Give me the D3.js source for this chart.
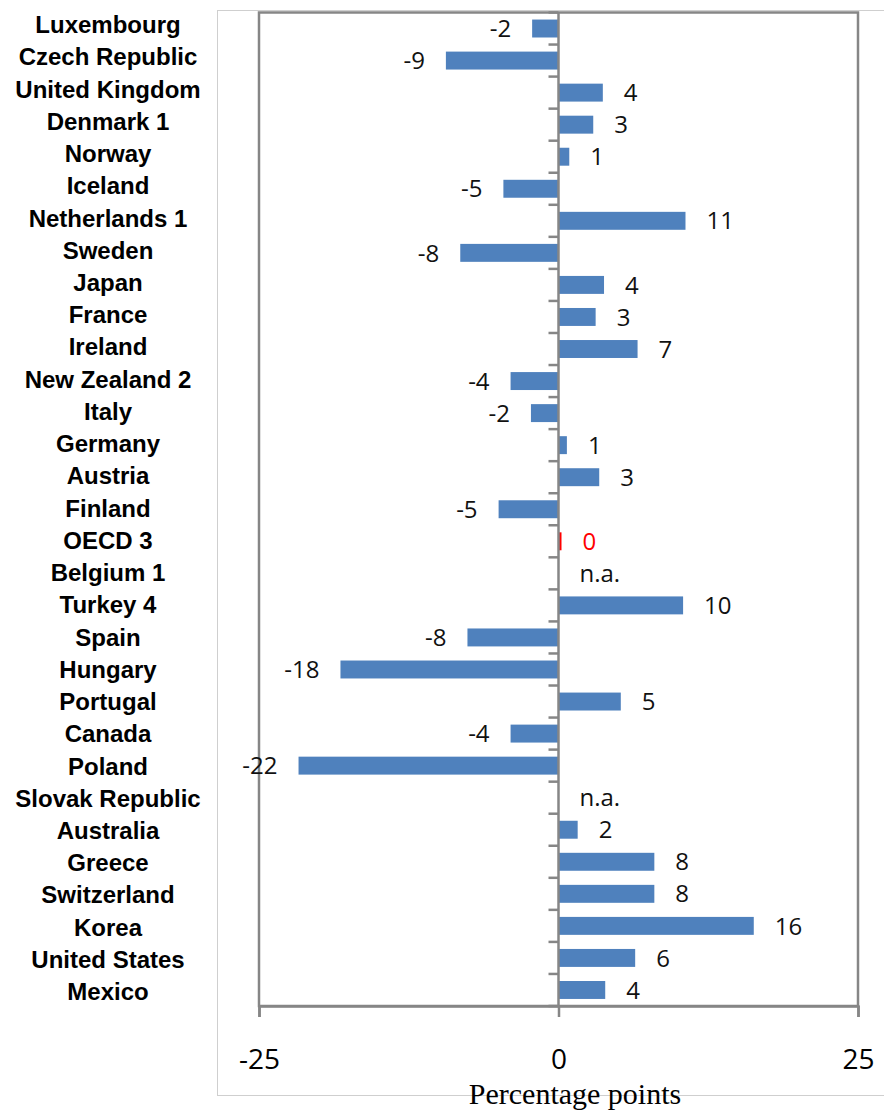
<!DOCTYPE html>
<html>
<head>
<meta charset="utf-8">
<script src="https://cdn.jsdelivr.net/npm/d3@7"></script>
<style>
  body { margin: 0; background: #fff; }
  svg { display: block; }
</style>
</head>
<body>
<svg id="chart" width="884" height="1111"></svg>
<script>
// countries, top to bottom as in the picture
let countries = ["Luxembourg", "Czech Republic", "United Kingdom", "Denmark 1", "Norway", "Iceland",
  "Netherlands 1", "Sweden", "Japan", "France", "Ireland", "New Zealand 2", "Italy", "Germany",
  "Austria", "Finland", "OECD 3", "Belgium 1", "Turkey 4", "Spain", "Hungary", "Portugal", "Canada",
  "Poland", "Slovak Republic", "Australia", "Greece", "Switzerland", "Korea", "United States", "Mexico"];
// percentage point change, null where n.a.
let values = [-2.2, -9.4, 3.7, 2.9, 0.9, -4.6, 10.6, -8.2, 3.8, 3.1, 6.6, -4.0, -2.3, 0.7,
  3.4, -5.0, 0.25, null, 10.4, -7.6, -18.2, 5.2, -4.0, -21.7, null, 1.6, 8.0, 8.0, 16.3, 6.4, 3.9];
let highlight = "OECD 3";
let xTicks = [-25, 0, 25];
let axisTitle = "Percentage points";

let svg = d3.select("#chart");
let blue = "#4f81bd", grey = "#868686";

// outer chart frame
svg.append("rect").attr("x", 217.5).attr("y", 10.5).attr("width", 700).attr("height", 1085)
  .attr("fill", "none").attr("stroke", "#cfcfcf").attr("stroke-width", 1);

let x = d3.scaleLinear().domain([-25, 25]).range([259, 858]);
let y = d3.scaleBand().domain(countries).range([12.5, 1006]).paddingInner(0.44).paddingOuter(0.22);
let rowStep = y.step();
let yLab = d3.scalePoint().domain(countries).range([24.5, 991.5]);

// plot border
svg.append("rect").attr("x", x(-25)).attr("y", 12.5).attr("width", x(25) - x(-25)).attr("height", 1006 - 12.5)
  .attr("fill", "none").attr("stroke", grey).attr("stroke-width", 2.5);

// bars
svg.append("g").selectAll("rect").data(countries.map((c, i) => ({c, v: values[i]})).filter(d => d.v !== null))
  .join("rect")
  .attr("x", d => x(Math.min(0, d.v)))
  .attr("width", d => Math.abs(x(d.v) - x(0)))
  .attr("y", d => y(d.c))
  .attr("height", y.bandwidth())
  .attr("fill", d => d.c === highlight ? "#ff0000" : blue);

// zero axis + category ticks
svg.append("line").attr("x1", x(0)).attr("x2", x(0)).attr("y1", 12.5).attr("y2", 1006)
  .attr("stroke", grey).attr("stroke-width", 2.5);
svg.append("g").selectAll("line").data(d3.range(countries.length + 1)).join("line")
  .attr("x1", x(0) - 10).attr("x2", x(0))
  .attr("y1", i => 12.5 + i * rowStep).attr("y2", i => 12.5 + i * rowStep)
  .attr("stroke", grey).attr("stroke-width", 2.5);

// bottom axis
let xAxis = svg.append("g").attr("transform", "translate(0,1006)")
  .call(d3.axisBottom(x).tickValues(xTicks).tickSize(11).tickPadding(32).tickFormat(d3.format("d")));
xAxis.select(".domain").attr("stroke", grey).attr("stroke-width", 2.5);
xAxis.selectAll(".tick line").attr("stroke", grey).attr("stroke-width", 2.5);
xAxis.selectAll(".tick text").attr("font-family", "'Open Sans', sans-serif").attr("font-size", 28)
  .attr("fill", "#000").text(d => d < 0 ? "-" + Math.abs(d) : d);

// data labels
svg.append("g").selectAll("text").data(countries.map((c, i) => ({c, v: values[i]})))
  .join("text")
  .attr("x", d => d.v !== null && d.v < 0 ? x(d.v) - 21 : x(d.v === null ? 0 : Math.max(d.v, 0.1)) + 21)
  .attr("y", d => y(d.c) + y.bandwidth() / 2)
  .attr("dy", "0.36em")
  .attr("text-anchor", d => d.v !== null && d.v < 0 ? "end" : "start")
  .attr("font-family", "'Open Sans', sans-serif").attr("font-size", 24)
  .attr("fill", d => d.c === highlight ? "#ff0000" : "#111")
  .text(d => d.v === null ? "n.a." : (d.c === highlight ? "0" : String(Math.round(d.v)).replace("−", "-")));

// category labels
svg.append("g").selectAll("text").data(countries).join("text")
  .attr("x", 108).attr("y", d => yLab(d)).attr("dy", "0.36em")
  .attr("text-anchor", "middle")
  .attr("font-family", "'Liberation Sans', Arial, sans-serif").attr("font-weight", "bold")
  .attr("font-size", 24).attr("fill", "#000")
  .text(d => d);

// axis title
svg.append("text").attr("x", 575).attr("y", 1104).attr("text-anchor", "middle")
  .attr("font-family", "'Liberation Serif', 'Times New Roman', serif").attr("font-size", 30)
  .attr("fill", "#000").text(axisTitle);
</script>
</body>
</html>
